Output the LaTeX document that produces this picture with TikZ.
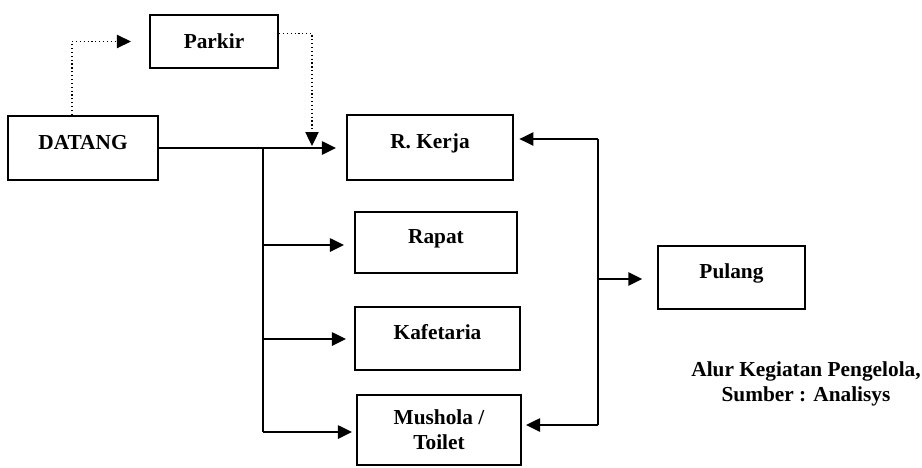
\documentclass[tikz,border=0pt]{standalone}
\usepackage{fontspec}
\setmainfont{Liberation Serif}
\usetikzlibrary{arrows.meta,calc}
\begin{document}
\begin{tikzpicture}[x=0.75pt,y=-0.75pt,
  font=\fontsize{16}{19}\selectfont\bfseries,
  box/.style={draw, line width=1.6pt, inner sep=0pt, text height=10.6pt, text depth=9.1pt},
  arr/.style={line width=1.3pt, -{Triangle[length=10.5pt,width=10pt]}},
  plain/.style={line width=1.3pt},
  dot/.style={line width=0.9pt, dotted},
  ]
\useasboundingbox (0,0) rectangle (922,468);
% boxes
\node[box, text depth=0pt, minimum width=96pt, minimum height=39.75pt] (parkir) at (214,41.5) {Parkir};
\node[box, minimum width=112.5pt, minimum height=48pt] (datang) at (83,148) {DATANG};
\node[box, minimum width=124.5pt, minimum height=48.75pt] (rkerja) at (430,147.5) {R. Kerja};
\node[box, minimum width=121.5pt, minimum height=45.75pt] (rapat) at (436,242.5) {Rapat};
\node[box, minimum width=123.75pt, minimum height=47.25pt] (kafe) at (437.5,338.5) {Kafetaria};
\node[draw, line width=1.6pt, inner sep=0pt, align=center, minimum width=123pt, minimum height=52.5pt] (mushola) at (439,430) {Mushola /\\Toilet};
\node[box, minimum width=110.25pt, minimum height=47.25pt] (pulang) at (731.5,277.5) {Pulang};
\node[align=center, inner sep=0pt] (cap) at (806,384) {Alur Kegiatan Pengelola,\\Sumber : Analisys};
% left branching
\coordinate (j) at (263,148);
\coordinate (jr) at (263,245);
\coordinate (jk) at (263,339);
\coordinate (jm) at (263,432);
\draw[arr, shorten >=7.5pt] (datang.east) -- (rkerja.west |- datang.east);
\draw[plain] (j) -- (jm);
\draw[arr, shorten >=7.5pt] (jr) -- (rapat.west |- jr);
\draw[arr, shorten >=6pt] (jk) -- (kafe.west |- jk);
\draw[arr, shorten >=3pt] (jm) -- (mushola.west |- jm);
% right branching
\coordinate (rt) at (598,139);
\coordinate (rp) at (598,279);
\coordinate (rb) at (598,425);
\draw[plain] (rt) -- (rb);
\draw[arr, shorten >=4pt] (rt) -- (rkerja.east |- rt);
\draw[arr, shorten >=3pt] (rb) -- (mushola.east |- rb);
\draw[arr, shorten >=11pt] (rp) -- (pulang.west |- rp);
% dotted parking path
\coordinate (pd) at (312,146);
\draw[dot, -{Triangle[length=10.5pt,width=10pt]}, shorten >=13.5pt] ($(datang.north)+(-11,0)$) |- (parkir.west);
\draw[dot, -{Triangle[length=10.5pt,width=10pt]}] ($(parkir.east)+(0,-8)$) -| (pd);
\end{tikzpicture}
\end{document}
